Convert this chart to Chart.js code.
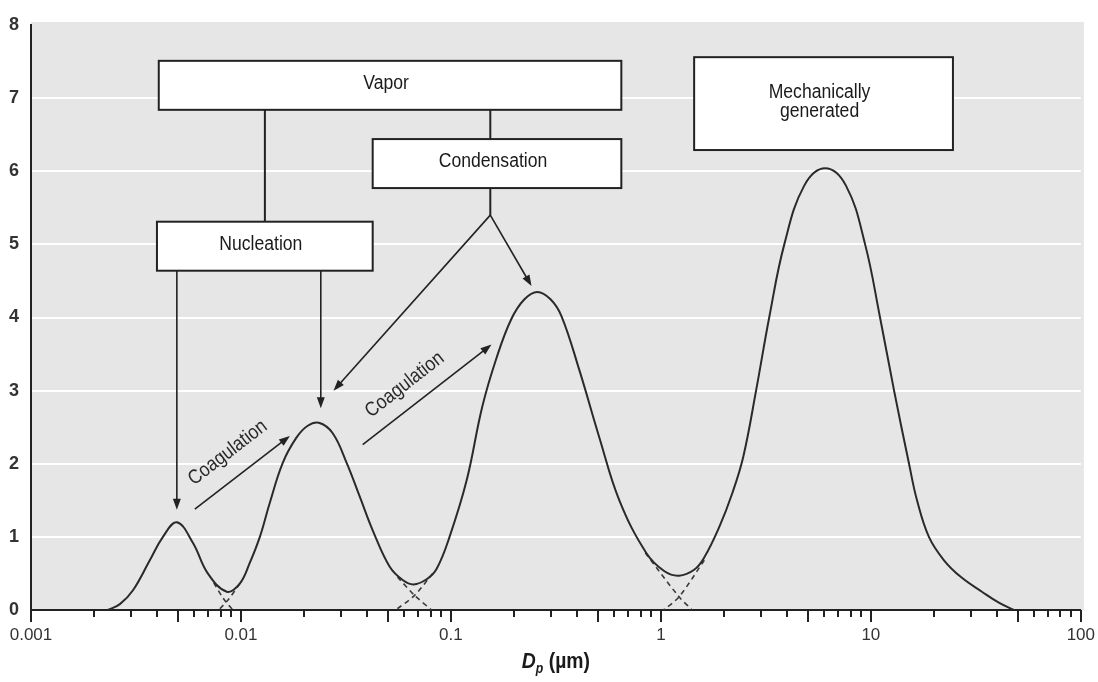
<!DOCTYPE html>
<html>
<head>
<meta charset="utf-8">
<script src="https://cdn.jsdelivr.net/npm/chart.js@4.4.1/dist/chart.umd.min.js"></script>
<style>
    html, body { margin: 0; padding: 0; background: #fff; }
    #wrap { width: 1098px; height: 682px; }
</style>
</head>
<body>
<div id="wrap"><canvas id="myChart" width="1098" height="682"></canvas></div>
<script>
// particle diameter (um) and distribution height
const curveX = [
    0.00232, 0.00265, 0.00306, 0.00368, 0.00425, 0.00495, 0.0059, 0.00695,
    0.00856, 0.00987, 0.011, 0.0123, 0.0137, 0.0158, 0.0184, 0.0208, 0.0235,
    0.0273, 0.0319, 0.0368, 0.0424, 0.0511, 0.0589, 0.0664, 0.0766,
    0.0854, 0.0985, 0.119, 0.141, 0.165, 0.194, 0.224, 0.258, 0.298, 0.336,
    0.409, 0.509, 0.634, 0.852, 1.04, 1.22, 1.44, 1.61,
    1.9, 2.19, 2.47, 2.84, 3.28, 3.87, 4.81, 6.06,
    7.62, 9.39, 11.06, 12.9, 15.2, 16.59, 18.9, 22.3,
    26.87, 33.8, 40.7, 48.0,
];
const curveY = [
    0, 0.08, 0.27, 0.68, 1.0, 1.2, 0.92, 0.5,
    0.25, 0.36, 0.64, 1.0, 1.46, 2.01, 2.36, 2.52, 2.56,
    2.42, 2.01, 1.55, 1.09, 0.59, 0.41, 0.35, 0.42,
    0.56, 1.0, 1.78, 2.78, 3.45, 3.98, 4.25, 4.35, 4.25, 4.02,
    3.28, 2.36, 1.5, 0.78, 0.53, 0.47, 0.55, 0.72,
    1.14, 1.6, 2.1, 3.0, 4.0, 5.0, 5.8, 6.04,
    5.8, 5.0, 4.0, 3.0, 2.0, 1.5, 1.0, 0.68,
    0.45, 0.25, 0.1, 0,
];

// dashed tails of the single modes under each trough
const tailsX = [
    [0.00742, 0.00828, 0.00914],
    [0.00987, 0.00875, 0.00784],
    [0.0557, 0.0671, 0.0809],
    [0.0818, 0.0671, 0.0545],
    [0.843, 1.22, 1.41],
    [1.61, 1.22, 1.03],
];
const tailsY = [
    [0.37, 0.15, 0],
    [0.36, 0.15, 0],
    [0.45, 0.2, 0],
    [0.5, 0.2, 0],
    [0.78, 0.18, 0],
    [0.68, 0.18, 0],
];

const decadeValues = [0.001, 0.01, 0.1, 1, 10, 100];
const decadeLabels = ["0.001", "0.01", "0.1", "1", "10", "100"];
const yTickValues = [0, 1, 2, 3, 4, 5, 6, 7, 8];

const boxTexts = [["Vapor"], ["Condensation"], ["Nucleation"], ["Mechanically", "generated"]];
const arrowText = "Coagulation";

const textFont = '"Liberation Sans Narrow", "Arial Narrow", "Liberation Sans", sans-serif';
const squeeze = 0.88; // the original lettering is a condensed face

// annotation layout in data units (x in um, y in value)
const notes = {
    boxes: [
        { x0: 0.00406, x1: 0.648, y0: 7.51, y1: 6.84 },
        { x0: 0.0424, x1: 0.648, y0: 6.44, y1: 5.77 },
        { x0: 0.00398, x1: 0.0424, y0: 5.31, y1: 4.64 },
        { x0: 1.44, x1: 24.6, y0: 7.56, y1: 6.29 },
    ],
    lines: [
        [[0.013, 6.84], [0.013, 5.31]],
        [[0.154, 6.84], [0.154, 6.44]],
        [[0.154, 5.77], [0.154, 5.4]],
    ],
    arrows: [
        [[0.154, 5.4], [0.0276, 3.0]],
        [[0.154, 5.4], [0.242, 4.43]],
        [[0.00495, 4.64], [0.00495, 1.37]],
        [[0.024, 4.64], [0.024, 2.76]],
        [[0.00603, 1.38], [0.0171, 2.38]],
        [[0.038, 2.26], [0.156, 3.63]],
    ],
    labels: [
        { x: 0.00865, y: 2.15, arrow: 4 },
        { x: 0.0602, y: 3.08, arrow: 5 },
    ],
};

function buildXTicks() {
    const ticks = [];
    for (let d = 0; d < decadeValues.length; d++) {
        const base = decadeValues[d];
        const last = d === decadeValues.length - 1 ? 1 : 9;
        for (let m = 1; m <= last; m++) {
            ticks.push({ value: +(base * m).toPrecision(6), major: m === 1, mid: m === 5 });
        }
    }
    return ticks;
}

function labelFor(value) {
    for (let i = 0; i < decadeValues.length; i++) {
        if (Math.abs(Math.log10(value) - Math.log10(decadeValues[i])) < 1e-6) return decadeLabels[i];
    }
    return "";
}

function drawArrow(ctx, x0, y0, x1, y1) {
    const a = Math.atan2(y1 - y0, x1 - x0);
    const len = 11;
    const half = 4;
    ctx.beginPath();
    ctx.moveTo(x0, y0);
    ctx.lineTo(x1 - Math.cos(a) * (len - 2), y1 - Math.sin(a) * (len - 2));
    ctx.stroke();
    ctx.beginPath();
    ctx.moveTo(x1, y1);
    ctx.lineTo(x1 - Math.cos(a) * len - Math.sin(a) * half, y1 - Math.sin(a) * len + Math.cos(a) * half);
    ctx.lineTo(x1 - Math.cos(a) * len + Math.sin(a) * half, y1 - Math.sin(a) * len - Math.cos(a) * half);
    ctx.closePath();
    ctx.fill();
}

// text in a narrower setting
function squeezedText(ctx, text, x, y) {
    ctx.save();
    ctx.translate(x, y);
    ctx.scale(squeeze, 1);
    ctx.fillText(text, 0, 0);
    ctx.restore();
}

const plotBackground = {
    id: "plotBackground",
    beforeDraw(chart) {
        const { ctx, chartArea } = chart;
        ctx.save();
        ctx.fillStyle = "#e6e6e6";
        ctx.fillRect(chartArea.left, chartArea.top - 3, chartArea.right - chartArea.left + 3, chartArea.bottom - chartArea.top + 3);
        ctx.restore();
    },
};

const axisExtras = {
    id: "axisExtras",
    afterDraw(chart) {
        const { ctx, chartArea } = chart;
        const xs = chart.scales.x;
        ctx.save();
        ctx.strokeStyle = "#222";
        ctx.lineWidth = 2;
        xs.ticks.forEach((t) => {
            const px = Math.round(xs.getPixelForValue(t.value));
            const len = t.major || t.mid ? 12 : 7;
            ctx.beginPath();
            ctx.moveTo(px, chartArea.bottom);
            ctx.lineTo(px, chartArea.bottom + len);
            ctx.stroke();
        });

        // axis title D_p (um)
        const cx = (chartArea.left + chartArea.right) / 2;
        const base = 668;
        ctx.fillStyle = "#1a1a1a";
        ctx.textBaseline = "alphabetic";
        ctx.textAlign = "left";
        const fBig = "bold italic 22px " + textFont;
        const fSub = "bold italic 14px " + textFont;
        const fRest = "bold 22px " + textFont;
        ctx.font = fBig;
        const wD = ctx.measureText("D").width * squeeze;
        ctx.font = fSub;
        const wp = ctx.measureText("p").width * squeeze;
        ctx.font = fRest;
        const wr = ctx.measureText(" (\u00b5m)").width * squeeze;
        let x = cx - (wD + wp + wr) / 2;
        ctx.font = fBig;
        squeezedText(ctx, "D", x, base);
        x += wD;
        ctx.font = fSub;
        squeezedText(ctx, "p", x, base + 5);
        x += wp;
        ctx.font = fRest;
        squeezedText(ctx, " (\u00b5m)", x, base);
        ctx.restore();
    },
};

const diagramNotes = {
    id: "diagramNotes",
    afterDatasetsDraw(chart) {
        const { ctx } = chart;
        const xs = chart.scales.x;
        const ys = chart.scales.y;
        const P = (pt) => [xs.getPixelForValue(pt[0]), ys.getPixelForValue(pt[1])];
        ctx.save();
        ctx.strokeStyle = "#222";
        ctx.fillStyle = "#222";
        ctx.lineWidth = 2;

        notes.lines.forEach((ln) => {
            const a = P(ln[0]);
            const b = P(ln[1]);
            ctx.beginPath();
            ctx.moveTo(a[0], a[1]);
            ctx.lineTo(b[0], b[1]);
            ctx.stroke();
        });

        ctx.lineWidth = 1.6;
        notes.arrows.forEach((ar) => {
            const a = P(ar[0]);
            const b = P(ar[1]);
            drawArrow(ctx, a[0], a[1], b[0], b[1]);
        });

        ctx.lineWidth = 2;
        ctx.font = "20px " + textFont;
        ctx.textAlign = "center";
        ctx.textBaseline = "middle";
        notes.boxes.forEach((bx, i) => {
            const a = P([bx.x0, bx.y0]);
            const b = P([bx.x1, bx.y1]);
            ctx.fillStyle = "#fff";
            ctx.fillRect(a[0], a[1], b[0] - a[0], b[1] - a[1]);
            ctx.strokeRect(a[0], a[1], b[0] - a[0], b[1] - a[1]);
            ctx.fillStyle = "#1a1a1a";
            const lines = boxTexts[i];
            const cx = (a[0] + b[0]) / 2 - 4;
            const cy = (a[1] + b[1]) / 2 - 2;
            const step = 19;
            lines.forEach((t, k) => {
                squeezedText(ctx, t, cx, cy + (k - (lines.length - 1) / 2) * step);
            });
        });

        notes.labels.forEach((lb) => {
            const ar = notes.arrows[lb.arrow];
            const a = P(ar[0]);
            const b = P(ar[1]);
            const ang = Math.atan2(b[1] - a[1], b[0] - a[0]);
            const p = P([lb.x, lb.y]);
            ctx.save();
            ctx.translate(p[0], p[1]);
            ctx.rotate(ang);
            ctx.fillStyle = "#2a2a2a";
            squeezedText(ctx, arrowText, 0, 0);
            ctx.restore();
        });
        ctx.restore();
    },
};

const datasets = [
    {
        data: curveX.map((x, i) => ({ x: x, y: curveY[i] })),
        borderColor: "#2a2a2a",
        borderWidth: 2,
        pointRadius: 0,
        tension: 0.4,
        fill: false,
    },
];
tailsX.forEach((xs, k) => {
    datasets.push({
        data: xs.map((x, i) => ({ x: x, y: tailsY[k][i] })),
        borderColor: "#3a3a3a",
        borderWidth: 1.6,
        borderDash: [5, 4],
        pointRadius: 0,
        tension: 0.3,
        fill: false,
    });
});

const ctx = document.getElementById("myChart");

new Chart(ctx, {
    type: "line",
    data: { datasets: datasets },
    options: {
        responsive: false,
        animation: false,
        devicePixelRatio: 1,
        layout: { padding: { top: 25, right: 16, left: 0, bottom: 0 } },
        plugins: { legend: { display: false }, tooltip: { enabled: false } },
        scales: {
            x: {
                type: "logarithmic",
                min: 0.001,
                max: 100,
                afterBuildTicks: (axis) => {
                    axis.ticks = buildXTicks();
                },
                afterFit: (axis) => {
                    axis.height = 72;
                },
                ticks: {
                    autoSkip: false,
                    maxRotation: 0,
                    minRotation: 0,
                    padding: 3,
                    color: "#333",
                    font: { family: textFont, size: 17 },
                    callback: (value) => labelFor(value),
                },
                grid: {
                    drawOnChartArea: false,
                    drawTicks: true,
                    tickLength: 12,
                    tickColor: "rgba(0,0,0,0)",
                },
                border: { display: true, color: "#222", width: 2 },
            },
            y: {
                type: "linear",
                min: 0,
                max: 8,
                afterBuildTicks: (axis) => {
                    axis.ticks = yTickValues.map((v) => ({ value: v }));
                },
                afterFit: (axis) => {
                    axis.width = 31;
                },
                ticks: {
                    padding: 12,
                    color: "#333",
                    font: { family: textFont, size: 18, weight: "bold" },
                },
                grid: {
                    drawTicks: false,
                    lineWidth: 2,
                    color: (c) => (c.tick && (c.tick.value === 0 || c.tick.value === 8) ? "rgba(0,0,0,0)" : "#ffffff"),
                },
                border: { display: true, color: "#222", width: 2 },
            },
        },
    },
    plugins: [plotBackground, diagramNotes, axisExtras],
});
</script>
</body>
</html>
